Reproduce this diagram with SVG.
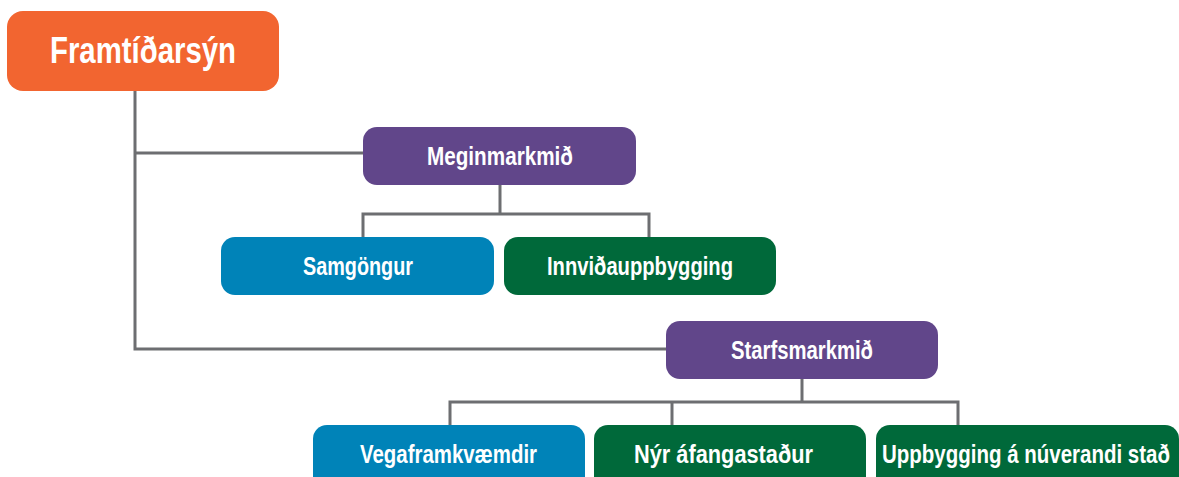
<svg xmlns="http://www.w3.org/2000/svg" width="1179" height="477" viewBox="0 0 1179 477">
<style>
.box{stroke:none}
.t{font-family:"Liberation Sans",Arial,sans-serif;font-weight:bold;fill:#fff;font-size:25px}
.big{font-size:36px}
.c{fill:none;stroke:#6d6e71;stroke-width:3}
.orange{fill:#f26530}.purple{fill:#61468a}.blue{fill:#0083b8}.green{fill:#00693a}
</style>
<rect width="1179" height="477" fill="#fff"/>
<g id="connectors">
<polyline class="c" points="135,91 135,349 666,349"/>
<line class="c" x1="135" y1="153" x2="363" y2="153"/>
<polyline class="c" points="363,237 363,214 649,214 649,237"/>
<line class="c" x1="500" y1="185" x2="500" y2="214"/>
<polyline class="c" points="450,425 450,402 958,402 958,425"/>
<line class="c" x1="802" y1="379" x2="802" y2="402"/>
<line class="c" x1="672" y1="402" x2="672" y2="425"/>
</g>
<g id="framtidarsyn">
<rect class="box orange" x="7" y="11" width="272" height="80" rx="16"/>
<text class="t big" x="50" y="63" textLength="186" lengthAdjust="spacingAndGlyphs">Framtíðarsýn</text>
</g>
<g id="meginmarkmid">
<rect class="box purple" x="363" y="127" width="273" height="58" rx="14"/>
<text class="t" x="427" y="165" textLength="146" lengthAdjust="spacingAndGlyphs">Meginmarkmið</text>
</g>
<g id="samgongur">
<rect class="box blue" x="221" y="237" width="273" height="58" rx="14"/>
<text class="t" x="303" y="275" textLength="110" lengthAdjust="spacingAndGlyphs">Samgöngur</text>
</g>
<g id="innvidauppbygging">
<rect class="box green" x="504" y="237" width="272" height="58" rx="14"/>
<text class="t" x="547" y="275" textLength="186" lengthAdjust="spacingAndGlyphs">Innviðauppbygging</text>
</g>
<g id="starfsmarkmid">
<rect class="box purple" x="666" y="321" width="272" height="58" rx="14"/>
<text class="t" x="731" y="359" textLength="142" lengthAdjust="spacingAndGlyphs">Starfsmarkmið</text>
</g>
<g id="vegaframkvaemdir">
<rect class="box blue" x="313" y="425" width="272" height="70" rx="14"/>
<text class="t" x="360" y="463" textLength="177" lengthAdjust="spacingAndGlyphs">Vegaframkvæmdir</text>
</g>
<g id="nyr-afangastadur">
<rect class="box green" x="594" y="425" width="272" height="70" rx="14"/>
<text class="t" x="634" y="463" textLength="179" lengthAdjust="spacingAndGlyphs">Nýr áfangastaður</text>
</g>
<g id="uppbygging">
<rect class="box green" x="876" y="425" width="303" height="70" rx="14"/>
<text class="t" x="882" y="463" textLength="288" lengthAdjust="spacingAndGlyphs">Uppbygging á núverandi stað</text>
</g>
</svg>
